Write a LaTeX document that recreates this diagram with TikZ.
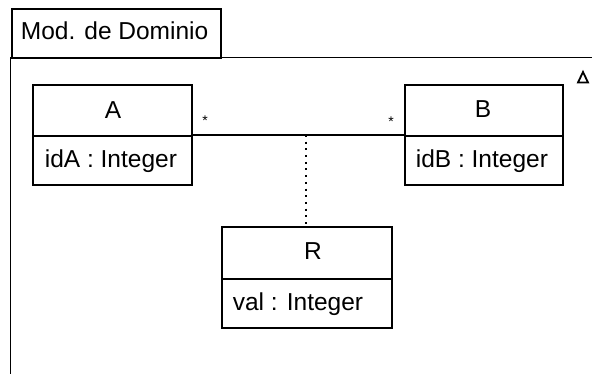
\documentclass[tikz,border=0pt]{standalone}
\usepackage{fontspec}
\setmainfont{Liberation Sans}
\begin{document}
\begin{tikzpicture}[x=1pt,y=1pt,
  line width=1.7pt,
  classbox/.style={draw, line width=1.7pt, inner sep=0pt, minimum height=100pt},
  label/.style={inner sep=0pt, anchor=base, font=\fontsize{24.5}{28}\selectfont},
  attr/.style={label, anchor=base west},
  mult/.style={inner sep=0pt, anchor=base, font=\fontsize{14}{16}\selectfont}]
\useasboundingbox (0,0) rectangle (592,-374);
\clip (0,0) rectangle (592,-374);

% package frame with its name tab
\node[draw, line width=1.7pt, inner sep=0pt, anchor=north west,
      minimum width=209pt, minimum height=49pt] (tab) at (11,-8) {};
\node[label, anchor=base west] (pkgname) at (20,-40) {Mod. de Dominio};
\coordinate (frameTR) at (600,-57.5);
\coordinate (frameBL) at (10.5,-380);
\draw (frameTR) -- (10.5,-57.5) -- (frameBL);

% small triangle mark at the top right
\draw[line width=1.8pt, line join=miter] (578,-82.5) -- (588,-82.5) -- (583,-72) -- cycle;

% classes
\node[classbox, minimum width=159pt] (A) at (112.5,-135) {};
\draw (A.west |- 0,-136) -- (A.east |- 0,-136);
\node[label] (Aname) at (113,-119) {A};
\node[attr] (Aattr) at (44,-168) {idA : Integer};

\node[classbox, minimum width=158pt] (B) at (484,-135) {};
\draw (B.west |- 0,-136) -- (B.east |- 0,-136);
\node[label] (Bname) at (483,-118) {B};
\node[attr] (Battr) at (415,-168) {idB : Integer};

\node[classbox, minimum width=170pt, minimum height=101pt] (R) at (307,-277.5) {};
\draw (R.west |- 0,-279) -- (R.east |- 0,-279);
\node[label] (Rname) at (313,-260) {R};
\node[attr] (Rattr) at (232,-310) {val : Integer};

% association with multiplicities and association class link
\draw (A.east) -- (B.west);
\coordinate (assoc) at (306,-135);
\node[mult] (mA) at (205,-126) {*};
\node[mult] (mB) at (391,-127) {*};
\draw[line width=1.7pt, dash pattern=on 2pt off 4.7pt] (assoc) -- (assoc |- R.north);
\end{tikzpicture}
\end{document}
